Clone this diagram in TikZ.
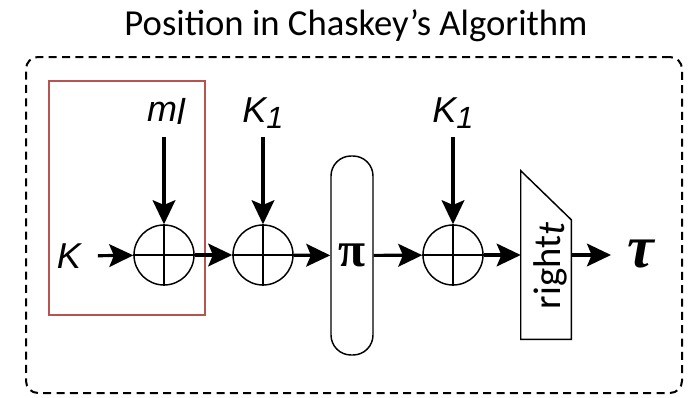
\documentclass[tikz,border=0pt]{standalone}
\usepackage{fontspec}
\setmainfont{Carlito}
\newfontfamily\lblfont{Liberation Sans}
\newfontfamily\symfont{Liberation Serif}
\usetikzlibrary{arrows.meta,calc}
\definecolor{hlred}{HTML}{B85450}
\tikzset{
  arr/.style={line width=2.4pt,-{Stealth[length=18pt,width=17pt,inset=3.5pt]}},
  xorc/.style={circle,draw,line width=1.1pt,minimum size=45pt,inner sep=0pt},
  lbl/.style={inner sep=0pt,font=\lblfont\itshape\fontsize{27}{30}\selectfont},
}
\begin{document}
\begin{tikzpicture}[x=0.75pt,y=-0.75pt]
\useasboundingbox (0,0) rectangle (692,397);
% title
\node (title) at (356,26) {\fontsize{27.5}{32}\selectfont Position in Chaskey's Algorithm};
% dashed frame
\node (frame) [draw,dashed,dash pattern=on 6pt off 4pt,line width=1.5pt,rounded corners=9pt,
  minimum width=492pt,minimum height=252pt] at (354,225) {};
% red highlight
\node (hl) [draw=hlred,line width=1.2pt,minimum width=117pt,minimum height=175.5pt] at (127,198) {};
% xor nodes
\node (x1) [xorc] at (164,255) {};
\node (x2) [xorc] at (263,255) {};
\node (x3) [xorc] at (453,255) {};
\foreach \n in {x1,x2,x3}{
  \draw[line width=1.1pt] (\n.north) -- (\n.south) (\n.west) -- (\n.east);
}
% pi box
\node (pi) [draw,line width=1.1pt,rounded corners=15pt,minimum width=31.5pt,minimum height=149.25pt,inner sep=0pt]
  at (352,255.5) {};
\node (pis) [inner sep=0pt] at (352,255.5) {\symfont\bfseries\fontsize{37}{40}\selectfont π};
% right_t trapezoid
\node (rt) [minimum width=37.5pt,minimum height=126pt,inner sep=0pt] at (546,255) {};
\draw[line width=1.1pt] (rt.north west) -- ([yshift=-36.75pt]rt.north east) -- (rt.south east)
  -- (rt.south west) -- cycle;
\node (rtl) [rotate=90,inner sep=0pt] at (550,266)
  {\fontsize{29}{32}\selectfont right{\itshape\raisebox{-3pt}{t}}};
% labels
\node (K) [lbl] at (69,256) {K};
\node (ml) [lbl] at (166,111) {m\raisebox{-2pt}{l}};
\node (k1a) [lbl] at (263,113) {K\raisebox{-5pt}{\fontsize{23}{26}\selectfont 1}};
\node (k1b) [lbl] at (453,113) {K\raisebox{-5pt}{\fontsize{23}{26}\selectfont 1}};
\node (tau) [inner sep=0pt,anchor=west] at (627,254) {\symfont\bfseries\itshape\fontsize{45}{48}\selectfont τ};
% connectors
\draw[arr,shorten <=12.5pt] (K) -- (x1);
\draw[arr] (x1.north |- 0,137) -- (x1.north);
\draw[arr] (x2.north |- 0,137) -- (x2.north);
\draw[arr] (x3.north |- 0,137) -- (x3.north);
\draw[arr] (x1) -- (x2);
\draw[arr] (x2) -- (pi);
\draw[arr] (pi) -- (x3);
\draw[arr] (x3) -- (rt.west);
\draw[arr] (rt.east) -- ([xshift=-12pt]rt.east -| tau.west);
\end{tikzpicture}
\end{document}
